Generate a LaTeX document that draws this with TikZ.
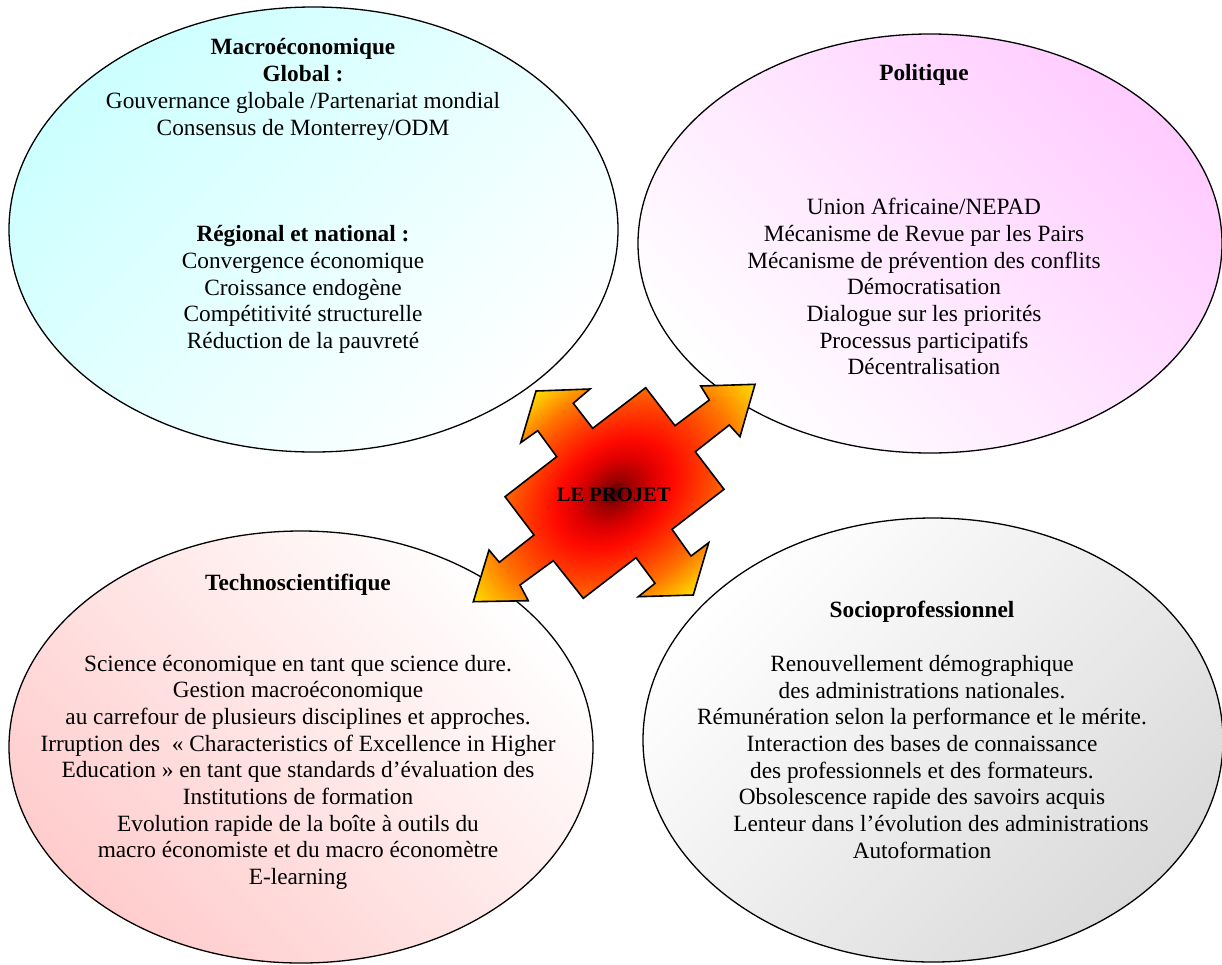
\documentclass[tikz,border=0pt]{standalone}
\usepackage{fontspec}
\setmainfont{Liberation Serif}
\usetikzlibrary{shapes.geometric}

\definecolor{macrocyan}{RGB}{204,255,255}
\definecolor{politpink}{RGB}{255,204,255}
\definecolor{technorose}{RGB}{255,204,204}
\definecolor{sociogray}{RGB}{218,218,218}
\definecolor{projetdark}{RGB}{70,0,0}
\definecolor{projetdeep}{RGB}{150,0,0}
\definecolor{projetwine}{RGB}{225,0,0}
\definecolor{projetred}{RGB}{255,10,0}
\definecolor{projetflame}{RGB}{255,65,0}
\definecolor{projetorange}{RGB}{255,115,0}
\definecolor{projetamber}{RGB}{255,165,0}
\definecolor{projetgold}{RGB}{255,215,0}
\definecolor{projetyellow}{RGB}{255,235,0}

% 25bp = rim of the shaded ellipse
\pgfdeclareradialshading{projetglow}{\pgfpoint{0bp}{0bp}}{%
  color(0bp)=(projetdark); color(2bp)=(projetdeep); color(6bp)=(projetwine);
  color(9bp)=(projetred); color(14bp)=(projetflame); color(18bp)=(projetorange);
  color(21bp)=(projetamber); color(24bp)=(projetgold);
  color(26bp)=(projetyellow); color(50bp)=(projetyellow)}

\tikzset{
  bubble/.style={ellipse, draw, line width=1.3pt},
  bodytext/.style={align=center, inner sep=0pt, anchor=north,
    font=\fontsize{23.3}{26.7}\selectfont, execute at begin node=\strut},
  projet/.style={draw, line width=1.6pt, line join=miter},
}

\begin{document}
\begin{tikzpicture}[x=1pt, y=-1pt]
  \useasboundingbox (0,0) rectangle (1222,964);

  % the four fields
  \node[bubble, minimum width=609pt, minimum height=445pt,
        top color=macrocyan, bottom color=white, shading angle=45] (macro) at (313.5,229.5) {};
  \node[bubble, minimum width=584pt, minimum height=419pt,
        top color=politpink, bottom color=white, shading angle=-45] (polit) at (930,243.5) {};
  \node[bubble, minimum width=584pt, minimum height=432pt,
        top color=white, bottom color=technorose, shading angle=-45] (techno) at (301,747) {};
  \node[bubble, minimum width=580pt, minimum height=444pt,
        top color=white, bottom color=sociogray, shading angle=45] (socio) at (933,740) {};

  % quad arrow in the middle, glow turned along its long arms
  \draw[projet, path picture={
        \coordinate (glow) at (path picture bounding box.center);
        \shade[shading=projetglow, transform canvas={rotate around={37.7:(glow)}}]
          (glow) ellipse [x radius=182, y radius=132];}]
    (645.7,387.7) -- (675,425.7) -- (709.3,400) -- (700.7,386) -- (755,384.3) % NE
    -- (740,436.7) -- (729.3,425) -- (695.3,451.7) -- (724,489.3)
    -- (672,529.3) -- (691,556) -- (708.7,542.7) -- (693.3,595) % SE
    -- (638.3,596.7) -- (655,583.3) -- (636,557.7) -- (583.3,598.3)
    -- (553.3,560.7) -- (520,585) -- (528.3,600.7) -- (473.3,601.7) % SW
    -- (489,550) -- (499.3,562.3) -- (534,535) -- (505,496.7)
    -- (556.7,456.7) -- (537.7,430.7) -- (520.7,442.7) -- (536,391) % NW
    -- (590,389) -- (573.3,403.3) -- (592.7,428.3) -- cycle;
  \node[font=\fontsize{20.6}{24}\selectfont\bfseries, inner sep=0pt, anchor=base]
    (projet) at (613.7,501.7) {LE PROJET};

  % texts
  \node[bodytext] (macrotext) at (303,38.6) {\textbf{Macroéconomique}\\
    \textbf{Global :}\\
    Gouvernance globale /Partenariat mondial\\
    Consensus de Monterrey/ODM\\[80pt]
    \textbf{Régional et national :}\\
    Convergence économique\\
    Croissance endogène\\
    Compétitivité structurelle\\
    Réduction de la pauvreté};

  \node[bodytext] (polittext) at (924,64.6) {\textbf{Politique}\\[107pt]
    Union Africaine/NEPAD\\
    Mécanisme de Revue par les Pairs\\
    Mécanisme de prévention des conflits\\
    Démocratisation\\
    Dialogue sur les priorités\\
    Processus participatifs\\
    Décentralisation};

  \node[bodytext] (technotext) at (298,574.3) {\textbf{Technoscientifique}\\[53.4pt]
    Science économique en tant que science dure.\\
    Gestion macroéconomique\\
    au carrefour de plusieurs disciplines et approches.\\
    Irruption des\ \ « Characteristics of Excellence in Higher\\
    Education » en tant que standards d’évaluation des\\
    Institutions de formation\\
    Evolution rapide de la boîte à outils du\\
    macro économiste et du macro économètre\\
    E-learning};

  \node[bodytext] (sociotext) at (922,601.3) {\textbf{Socioprofessionnel}\\[26.7pt]
    Renouvellement démographique\\
    des administrations nationales.\\
    Rémunération selon la performance et le mérite.\\
    Interaction des bases de connaissance\\
    des professionnels et des formateurs.\\
    Obsolescence rapide des savoirs acquis\\
    \hspace*{38pt}Lenteur dans l’évolution des administrations\\
    Autoformation};
\end{tikzpicture}
\end{document}
